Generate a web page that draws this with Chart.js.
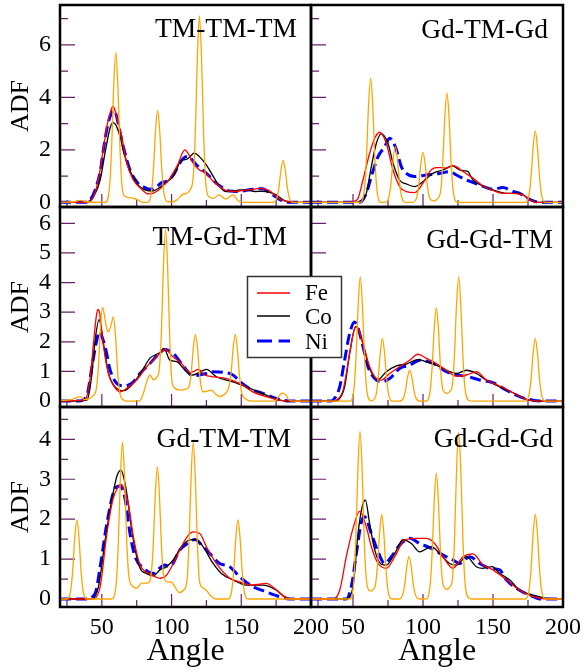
<!DOCTYPE html>
<html>
<head>
<meta charset="utf-8">
<script src="https://cdn.jsdelivr.net/npm/chart.js@4.4.1/dist/chart.umd.min.js"></script>
<style>
html,body{margin:0;padding:0;background:#fff;}
body{width:583px;height:672px;position:relative;overflow:hidden;}
canvas{position:absolute;}
#overlay{position:absolute;left:0;top:0;pointer-events:none;}
</style>
</head>
<body>
<svg id="overlay" width="583" height="672" font-family="Liberation Serif" fill="#000">
  <g font-size="27.5" text-anchor="end">
    <text x="297" y="37">TM-TM-TM</text>
    <text x="548" y="38">Gd-TM-Gd</text>
    <text x="287" y="245">TM-Gd-TM</text>
    <text x="553" y="248">Gd-Gd-TM</text>
    <text x="291" y="447">Gd-TM-TM</text>
    <text x="553" y="447">Gd-Gd-Gd</text>
  </g>
  <rect x="247.5" y="276.5" width="94" height="81" fill="#fff" stroke="#333" stroke-width="1.5"/>
  <line x1="257" y1="293" x2="290" y2="293" stroke="#ff0000" stroke-width="1.3"/>
  <line x1="257" y1="316" x2="290" y2="316" stroke="#000" stroke-width="1.3"/>
  <line x1="257" y1="341" x2="290" y2="341" stroke="#0000ff" stroke-width="3" stroke-dasharray="15 6.6"/>
  <g font-size="23">
    <text x="305" y="300">Fe</text>
    <text x="305" y="324">Co</text>
    <text x="305" y="349">Ni</text>
  </g>
</svg>
<script>
// angle (deg) vs ADF
const seriesNames = ['Fe', 'Co', 'Ni'];
const panelTitles = ['TM-TM-TM', 'Gd-TM-Gd', 'TM-Gd-TM', 'Gd-Gd-TM', 'Gd-TM-TM', 'Gd-Gd-Gd'];
const angleTicks = [50, 100, 150, 200];

// TM-TM-TM
const tmtmtm_ref = [[20,0],[30,0.02],[34.5,0.07],[39,0.02],[50,0],[52.5,0],[55.5,0.57],[57,2.05],[58.5,4.42],[60,5.7],[61.5,4.42],[63,2.05],[64.5,0.6],[66,0.25],[69,0.18],[73,0.15],[76,0.08],[79,0],[82.5,0],[85.5,0.35],[87,1.26],[88.5,2.72],[90,3.5],[91.5,2.72],[93,1.26],[94.5,0.35],[97.5,0.02],[101,0.02],[104,0.1],[108,0.3],[111,0.35],[113,0.45],[115.5,0.95],[117,2.6],[118.5,5.5],[120,7.1],[121.5,5.5],[123,2.6],[124.5,0.75],[127,0.2],[130,0.15],[134,0.28],[139,0.12],[144,0.28],[148,0.05],[152,0],[172.5,0],[175.5,0.16],[177,0.58],[178.5,1.24],[180,1.6],[181.5,1.24],[183,0.58],[184.5,0.16],[187.5,0],[200,0]];
const tmtmtm_fe = [[20,0],[38,0],[42,0.05],[45,0.35],[48,1.0],[51,2.0],[54,3.0],[56.5,3.5],[58,3.65],[59.5,3.5],[61.5,3.1],[64.3,2.5],[67.9,1.49],[72.6,0.85],[78.5,0.5],[83.3,0.32],[87,0.35],[91,0.48],[95,0.68],[98,0.85],[102,1.2],[105,1.5],[107.5,1.85],[109.5,2.0],[112,1.85],[115.5,1.49],[120,1.23],[125,1.1],[130,0.79],[134.5,0.6],[139,0.45],[144,0.41],[149,0.43],[154,0.47],[159,0.5],[163,0.53],[167,0.5],[170,0.45],[173,0.32],[177,0.15],[181,0.05],[185,0.01],[190,0],[200,0]];
const tmtmtm_co = [[20,0],[38,0],[41,0.05],[44,0.2],[48.8,0.85],[52.4,1.91],[55.9,2.83],[58,3.04],[60,2.95],[63.1,2.5],[66,1.85],[69,1.36],[75,0.72],[82,0.45],[86,0.43],[91.6,0.57],[96,0.75],[101,0.98],[104,1.3],[106,1.55],[109,1.62],[111,1.64],[113.5,1.75],[116,1.87],[120,1.74],[125,1.42],[130,0.98],[134.5,0.6],[139,0.41],[144,0.42],[149,0.47],[155,0.45],[160,0.41],[165,0.42],[168,0.41],[172,0.35],[175,0.28],[180,0.09],[184.5,0.01],[190,0],[200,0]];
const tmtmtm_ni = [[20,0],[38,0],[41.6,0.09],[45.2,0.47],[48.8,1.17],[51.1,2.0],[54,2.9],[56.5,3.35],[58.3,3.5],[60.5,3.3],[62.5,2.8],[65.4,2.12],[70.2,1.23],[76,0.72],[80,0.58],[84.5,0.5],[89.3,0.6],[93,0.75],[96.4,0.8],[99,0.9],[102,1.1],[106,1.5],[109,1.7],[112,1.75],[115,1.6],[118,1.42],[122,1.25],[125,1.1],[129,0.9],[132,0.73],[136,0.58],[139,0.47],[144,0.42],[148.8,0.41],[153,0.45],[158.3,0.5],[163,0.52],[165.5,0.52],[170,0.37],[175,0.2],[177.4,0.11],[181,0.04],[184.5,0],[200,0]];

// Gd-TM-Gd
const gdtmgd_ref = [[20,0],[55,0],[58.1,0.47],[59.6,1.7],[61.1,3.69],[62.6,4.73],[64.1,3.69],[65.6,1.7],[67.1,0.47],[70,0],[72.7,0],[75.7,0.21],[77.2,0.76],[78.7,1.65],[80.2,2.12],[81.7,1.65],[83.2,0.76],[84.7,0.21],[87.7,0],[92.5,0],[95.5,0.19],[97,0.68],[98.5,1.48],[100,1.9],[101.5,1.48],[103,0.68],[104.5,0.19],[107.5,0.05],[109.6,0.1],[112.6,0.42],[114.1,1.5],[115.6,3.24],[117.1,4.16],[118.6,3.24],[120.1,1.5],[121.6,0.42],[124.6,0],[173,0],[175.7,0.27],[177.2,0.98],[178.7,2.12],[180.2,2.72],[181.7,2.12],[183.2,0.98],[184.7,0.27],[187.7,0],[200,0]];
const gdtmgd_fe = [[20,0],[48,0],[50.5,0.03],[53.6,0.15],[57.1,0.85],[61.9,1.87],[65.5,2.44],[69,2.67],[70.5,2.62],[73.8,2.25],[78.6,1.23],[83.3,0.6],[88.1,0.41],[94,0.37],[100,0.73],[104.8,1.17],[109.5,1.32],[113,1.32],[116.7,1.3],[121.4,1.4],[124,1.35],[128.6,1.17],[135.7,0.92],[142.9,0.62],[150,0.45],[157.1,0.34],[164.3,0.34],[171.4,0.28],[176.2,0.09],[181,0],[200,0]];
const gdtmgd_co = [[20,0],[52,0],[54.8,0.03],[59.5,0.34],[63.1,1.36],[66.7,2.25],[70.2,2.61],[72,2.55],[75,2.25],[78.6,1.49],[83.3,0.85],[88.1,0.7],[94,0.6],[100,0.79],[107.1,1.1],[114.3,1.23],[121,1.39],[126.2,1.23],[130,1.2],[132.1,1.17],[135.7,0.85],[142.9,0.62],[150,0.47],[159.5,0.34],[169,0.34],[176.2,0.11],[181,0],[200,0]];
const gdtmgd_ni = [[20,0],[54,0],[56,0.03],[59.5,0.34],[63.1,0.98],[67.9,1.74],[72.6,2.12],[76.2,2.44],[78.6,2.3],[81,2.0],[84.5,1.36],[88.1,1.1],[94,0.98],[102.4,1.04],[111.9,1.1],[119,1.17],[123.8,1.04],[131,0.85],[140.5,0.66],[150,0.5],[157.1,0.56],[164.3,0.41],[169,0.34],[176.2,0.11],[183.3,0],[200,0]];

// TM-Gd-TM
const tmgdtm_ref = [[20,0.02],[28,0.05],[34.5,0.15],[37.5,0.05],[41,0.08],[43,0.15],[46,0.4],[47.5,1.14],[49,2.45],[50.5,3.16],[52,2.85],[53.5,2.45],[54.8,2.34],[56.5,2.55],[58.3,2.84],[59.8,2.2],[61.3,1.02],[62.8,0.3],[65.8,0.03],[68,0],[77,0],[80,0.3],[82.5,0.7],[84.5,0.88],[87,0.72],[89.3,0.8],[91.2,1.1],[92.7,2.3],[94.2,4.6],[95.7,5.79],[97.2,4.5],[98.7,2.1],[100.2,0.7],[102,0.45],[106,0.37],[110,0.4],[112.6,0.5],[114.1,0.95],[115.6,1.8],[117.1,2.25],[118.6,1.8],[120.1,0.9],[121.6,0.4],[122.6,0.31],[125,0.33],[128.6,0.37],[131.5,0.25],[134.5,0.15],[137,0.2],[139.5,0.3],[141.2,0.5],[142.7,0.95],[144.2,1.8],[145.7,2.25],[147.2,1.75],[148.7,0.85],[150.2,0.3],[153,0.08],[158,0],[174,0],[176,0.1],[177.5,0.2],[179.8,0.28],[182,0.2],[184,0.05],[187,0],[200,0]];
const tmgdtm_fe = [[20,0],[36.9,0.03],[39.5,0.2],[41.7,0.82],[44,1.94],[46,2.85],[47.1,3.09],[48.5,2.95],[50,2.28],[53.6,1.16],[56,0.75],[59.5,0.45],[63.1,0.31],[67.9,0.43],[75,0.71],[82.1,1.16],[89.3,1.49],[93,1.68],[95.2,1.74],[101.2,1.49],[107.1,1.27],[113.1,0.96],[116,1.0],[119,1.07],[123.8,0.88],[129.8,0.82],[139.3,0.76],[148.8,0.6],[158.3,0.31],[167.9,0.15],[177.4,0.03],[184.5,0],[200,0]];
const tmgdtm_co = [[20,0],[39.3,0.03],[41,0.3],[42.9,0.93],[45.2,2.06],[48.1,2.75],[49.5,2.5],[51.2,1.94],[54.8,0.93],[59.5,0.48],[65.5,0.35],[72.6,0.6],[79.8,1.1],[84.5,1.45],[89.3,1.58],[92,1.65],[94.5,1.78],[98.8,1.38],[103.6,1.33],[110.7,0.99],[115.5,0.88],[120,0.97],[125,1.07],[132.1,0.82],[144,0.65],[156,0.43],[167.9,0.2],[177.4,0.03],[185,0],[200,0]];
const tmgdtm_ni = [[20,0],[33.3,0],[39.3,0.2],[42.9,1.16],[46.4,2.06],[48.3,2.34],[49.8,2.2],[52.4,1.83],[56,1.04],[60.7,0.6],[66.7,0.51],[72.6,0.65],[77.4,0.93],[84.5,1.27],[90,1.55],[95.2,1.74],[101.2,1.61],[107.1,1.27],[115.5,0.85],[120,0.88],[125,0.93],[129.8,0.99],[136.9,0.97],[144,0.88],[150,0.62],[156,0.42],[165,0.27],[175,0.09],[184.5,0],[200,0]];

// Gd-Gd-TM
const gdgdtm_ref = [[20,0],[47.7,0],[50.7,0.42],[52.2,1.51],[53.7,3.25],[55.2,4.19],[56.7,3.25],[58.2,1.51],[59.7,0.42],[62.7,0.02],[63.5,0.02],[66.5,0.21],[68,0.76],[69.5,1.64],[71,2.11],[72.5,1.64],[74,0.76],[75.5,0.21],[78.5,0],[83,0],[86,0.1],[87.5,0.37],[89,0.81],[90.5,1.04],[92,0.81],[93.5,0.37],[95,0.1],[98,0],[102,0],[105,0.32],[106.5,1.13],[108,2.44],[109.5,3.15],[111,2.44],[112.5,1.13],[114,0.42],[115.5,0.3],[117.1,0.26],[119,0.32],[121,0.55],[122.5,1.6],[124,3.3],[125.5,4.19],[127,3.25],[128.5,1.51],[130,0.42],[133,0.02],[136,0],[173,0],[175.7,0.21],[177.2,0.76],[178.7,1.64],[180.2,2.11],[181.7,1.64],[183.2,0.76],[184.7,0.21],[187.7,0],[200,0]];
const gdgdtm_fe = [[20,0],[36,0],[38.1,0.03],[42.9,0.37],[47.6,1.61],[51.2,2.45],[52.9,2.51],[54.5,2.35],[57.1,1.94],[61.9,1.16],[66.7,0.76],[70.2,0.71],[76.2,0.93],[83.3,1.16],[90.5,1.38],[96.4,1.58],[102.4,1.44],[109.5,1.27],[116.7,1.04],[123.8,0.84],[131,0.88],[138.1,0.99],[145.2,0.71],[154.8,0.51],[164.3,0.28],[173.8,0.06],[183.3,0],[200,0]];
const gdgdtm_co = [[20,0],[37,0],[39.3,0.03],[44,0.48],[47.6,1.61],[51.9,2.51],[53.5,2.45],[57.1,1.94],[61.9,1.1],[67.9,0.73],[73.8,0.99],[81,1.19],[88.1,1.25],[96.4,1.4],[102.4,1.33],[109.5,1.21],[116.7,1.04],[123.8,0.93],[131,1.04],[138.1,0.93],[145.2,0.71],[154.8,0.48],[164.3,0.28],[173.8,0.06],[183.3,0],[200,0]];
const gdgdtm_ni = [[20,0],[34,0],[35.7,0.03],[40.5,0.48],[44,1.38],[47.6,2.28],[51.2,2.67],[53,2.55],[56,2.06],[60.7,1.16],[65.5,0.76],[70.2,0.65],[76.2,0.76],[83.3,1.1],[90.5,1.21],[97.6,1.38],[107.1,1.27],[116.7,0.99],[123.8,0.88],[131,0.84],[140.5,0.71],[150,0.62],[159.5,0.37],[169,0.15],[178.6,0.03],[188,0],[200,0]];

// Gd-TM-TM
const gdtmtm_ref = [[20,0],[24.6,0],[27.6,0.2],[29.1,0.71],[30.6,1.54],[32.1,1.98],[33.6,1.54],[35.1,0.71],[36.6,0.2],[39.6,0],[57,0],[60.3,0.39],[61.8,1.41],[63.3,3.05],[64.8,3.93],[66.3,3.05],[67.8,1.5],[69.3,0.6],[72,0.32],[75,0.27],[78.5,0.4],[83,0.4],[85.3,0.6],[86.8,1.3],[88.3,2.6],[89.8,3.31],[91.3,2.6],[92.8,1.3],[94.3,0.6],[97,0.43],[100,0.42],[102.5,0.3],[105.5,0.16],[108.5,0.22],[111,0.45],[112.5,1.41],[114,3.05],[115.5,3.93],[117,3.05],[118.5,1.41],[120,0.45],[122.5,0.28],[125,0.22],[128,0.08],[132,0],[140,0],[143.1,0.2],[144.6,0.71],[146.1,1.54],[147.6,1.98],[149.1,1.54],[150.6,0.71],[152.1,0.2],[155.1,0],[200,0]];
const gdtmtm_fe = [[20,0],[44,0],[48.8,0.31],[53.6,1.64],[58,2.5],[61.5,2.8],[63.8,2.87],[66,2.75],[69,2.39],[72.6,1.56],[77.4,0.85],[84.5,0.64],[91.7,0.52],[96.4,0.6],[101.2,0.89],[108.3,1.39],[112,1.6],[115.5,1.68],[120.2,1.64],[125,1.31],[132.1,0.89],[141.7,0.52],[148.8,0.43],[158.3,0.35],[167.9,0.39],[175,0.23],[180.9,0.06],[186.9,0],[200,0]];
const gdtmtm_co = [[20,0],[42.9,0],[47.6,0.31],[52.4,1.48],[57.1,2.48],[61,3.1],[63.8,3.23],[66,3.0],[67.9,2.64],[72.6,1.48],[77.4,0.77],[82.1,0.64],[86.9,0.58],[91.7,0.73],[96.4,0.81],[101.2,0.98],[107.1,1.31],[113.1,1.48],[117.9,1.49],[122.6,1.31],[129.8,0.89],[135.7,0.64],[144,0.48],[153.6,0.35],[165.5,0.35],[175,0.23],[180.9,0.06],[186.9,0],[200,0]];
const gdtmtm_ni = [[20,0],[38.1,0],[45.2,0.14],[48.8,0.81],[53.6,1.89],[59.5,2.77],[63.1,2.83],[66.7,2.5],[70.2,1.64],[73.8,1.06],[79.8,0.77],[86.9,0.64],[91.7,0.78],[95.2,0.85],[98.8,0.81],[106,1.23],[113.1,1.43],[116.7,1.49],[122.6,1.31],[127.4,1.14],[134.5,0.89],[141.7,0.81],[148.8,0.56],[158.3,0.31],[167.9,0.18],[177.4,0.06],[184.5,0],[200,0]];

// Gd-Gd-Gd
const gdgdgd_ref = [[20,0],[47.5,0],[50.5,0.42],[52,1.51],[53.5,3.26],[55,4.2],[56.5,3.26],[58,1.51],[59.5,0.5],[61.5,0.22],[63.1,0.2],[64.5,0.25],[66,0.35],[67.5,0.85],[69,1.65],[70.5,2.12],[72,1.65],[73.5,0.76],[75,0.21],[78,0],[83,0],[85.5,0.11],[87,0.38],[88.5,0.83],[90,1.06],[91.5,0.83],[93,0.38],[94.5,0.11],[97.5,0],[102,0],[105,0.32],[106.5,1.14],[108,2.46],[109.5,3.16],[111,2.46],[112.5,1.14],[114,0.42],[115.5,0.28],[117.1,0.24],[119,0.3],[121,0.5],[122.5,1.5],[124,3.26],[125.5,4.18],[127,3.25],[128.5,1.5],[130,0.42],[133,0.02],[136,0],[173,0],[175.7,0.21],[177.2,0.76],[178.7,1.65],[180.2,2.12],[181.7,1.65],[183.2,0.76],[184.7,0.21],[187.7,0],[200,0]];
const gdgdgd_fe = [[20,0],[35.7,0],[40.5,0.22],[45.2,1.06],[50,1.77],[54.8,2.2],[59.5,1.81],[63.1,1.31],[67.9,0.89],[73.8,0.77],[79.8,1.06],[86.9,1.48],[95.2,1.52],[102.4,1.52],[108.3,1.39],[114.3,1.06],[121.4,0.77],[128.6,1.06],[135.7,1.13],[142.9,0.85],[150,0.73],[159.5,0.48],[169,0.22],[178.6,0.06],[188.1,0],[200,0]];
const gdgdgd_co = [[20,0],[45.2,0],[50,0.31],[53.6,1.64],[56.5,2.3],[58.8,2.48],[61.9,1.89],[65.5,1.23],[70.2,0.87],[73.8,0.85],[79.8,1.14],[85.7,1.49],[91.7,1.39],[97.6,1.18],[106,1.31],[111.9,1.14],[119,0.89],[123.8,0.85],[131,1.06],[138.1,0.81],[142.9,0.77],[149.5,0.81],[154.8,0.64],[161.9,0.48],[169,0.22],[178.6,0.1],[192.9,0],[200,0]];
const gdgdgd_ni = [[20,0],[45.2,0],[48.8,0.31],[52.4,1.14],[56,1.93],[58.3,2.06],[63.1,1.64],[67.9,1.18],[72.6,0.89],[77.4,1.06],[83.3,1.35],[90.5,1.52],[97.6,1.39],[106,1.27],[114.3,1.1],[121.4,0.98],[126.2,0.89],[133.3,1.06],[140.5,0.89],[147.6,0.77],[154.8,0.73],[159.5,0.48],[169,0.22],[178.6,0.06],[183.3,0],[200,0]];

const panels = [
  {col:0, row:0, ref:tmtmtm_ref, fe:tmtmtm_fe, co:tmtmtm_co, ni:tmtmtm_ni},
  {col:1, row:0, ref:gdtmgd_ref, fe:gdtmgd_fe, co:gdtmgd_co, ni:gdtmgd_ni},
  {col:0, row:1, ref:tmgdtm_ref, fe:tmgdtm_fe, co:tmgdtm_co, ni:tmgdtm_ni},
  {col:1, row:1, ref:gdgdtm_ref, fe:gdgdtm_fe, co:gdgdtm_co, ni:gdgdtm_ni},
  {col:0, row:2, ref:gdtmtm_ref, fe:gdtmtm_fe, co:gdtmtm_co, ni:gdtmtm_ni},
  {col:1, row:2, ref:gdgdgd_ref, fe:gdgdgd_fe, co:gdgdgd_co, ni:gdgdgd_ni}
];

const cols = [{left:60, right:311}, {left:311, right:563}];
// max of the bottom row is not a whole number of steps from min, so ticks stay on 0, 0.5, 1...
const rows = [
  {top:5, bottom:207, min:-0.18, max:7.52, step:1, major:2},
  {top:207, bottom:407, min:-0.2, max:6.55, step:1, major:1},
  {top:407, bottom:607, min:-0.2, max:4.81, step:0.5, major:1}
];
const serif = 'Liberation Serif';

// inward tick marks + frame, drawn from the scales' own ticks
const inTicks = {
  id: 'inTicks',
  beforeDatasetsDraw(chart, args, opts) {
    const {ctx, chartArea: a} = chart;
    const sx = chart.scales.x, sy = chart.scales.y;
    ctx.save();
    ctx.strokeStyle = '#662266';
    ctx.lineWidth = 1.2;
    ctx.beginPath();
    sx.ticks.forEach(t => {
      const px = sx.getPixelForValue(t.value);
      const len = angleTicks.includes(t.value) ? 13 : 7;
      ctx.moveTo(px, a.bottom); ctx.lineTo(px, a.bottom - len);
    });
    sy.ticks.forEach(t => {
      const py = sy.getPixelForValue(t.value);
      const q = t.value / opts.major;
      const len = Math.abs(q - Math.round(q)) < 1e-6 ? 15 : 8;
      ctx.moveTo(a.left, py); ctx.lineTo(a.left + len, py);
    });
    ctx.stroke();
    ctx.restore();
  },
  afterDatasetsDraw(chart) {
    const {ctx, chartArea: a} = chart;
    ctx.save();
    ctx.strokeStyle = '#000';
    ctx.lineWidth = 2.5;
    ctx.strokeRect(a.left, a.top, a.right - a.left, a.bottom - a.top);
    ctx.restore();
  }
};

const overlay = document.getElementById('overlay');

panels.forEach(p => {
  const c = cols[p.col], r = rows[p.row];
  const showY = p.col === 0, showX = p.row === 2;
  const cl = showY ? 0 : c.left - 30;
  const ct = r.top - 30;
  const cw = c.right + 30 - cl;
  const ch = (showX ? 672 : r.bottom + 30) - ct;
  const cv = document.createElement('canvas');
  cv.width = cw; cv.height = ch;
  cv.style.left = cl + 'px'; cv.style.top = ct + 'px';
  document.body.insertBefore(cv, overlay);

  new Chart(cv, {
    type: 'line',
    data: {
      datasets: [
        {label: 'ref', data: p.ref, borderColor: '#ffa500', borderWidth: 1.3},
        {label: seriesNames[0], data: p.fe, borderColor: '#ff0000', borderWidth: 1.3},
        {label: seriesNames[1], data: p.co, borderColor: '#000000', borderWidth: 1.3},
        {label: seriesNames[2], data: p.ni, borderColor: '#0000ff', borderWidth: 3, borderDash: [11, 5]}
      ]
    },
    options: {
      responsive: false,
      animation: false,
      events: [],
      layout: {padding: {left: showY ? 0 : 30, right: 30, top: 30, bottom: showX ? 0 : 30}},
      elements: {point: {radius: 0}, line: {cubicInterpolationMode: 'monotone', fill: false}},
      plugins: {legend: {display: false}, tooltip: {enabled: false}, inTicks: {major: r.major}},
      scales: {
        x: {
          type: 'linear', min: 20, max: 200,
          grid: {display: false, drawTicks: false}, border: {display: false},
          ticks: {
            stepSize: 25, includeBounds: false, display: showX, autoSkip: false, maxRotation: 0,
            padding: 6, color: '#000', font: {family: serif, size: 24},
            callback: v => angleTicks.includes(v) ? v : ''
          },
          title: {display: showX, text: 'Angle', color: '#000', font: {family: serif, size: 32}, padding: {top: 0, bottom: 1}},
          afterFit: s => { s.height = showX ? 65 : 0; }
        },
        y: {
          type: 'linear', min: r.min, max: r.max,
          grid: {display: false, drawTicks: false}, border: {display: false},
          ticks: {
            stepSize: r.step, includeBounds: false, display: showY, autoSkip: false,
            padding: 9, color: '#000', font: {family: serif, size: 24},
            callback: v => { const q = v / r.major; return Math.abs(q - Math.round(q)) < 1e-6 ? v : ''; }
          },
          title: {display: showY, text: 'ADF', color: '#000', font: {family: serif, size: 26}, padding: {top: 6, bottom: 0}},
          afterFit: s => { s.width = showY ? 60 : 0; }
        }
      }
    },
    plugins: [inTicks]
  });
});
</script>
</body>
</html>
